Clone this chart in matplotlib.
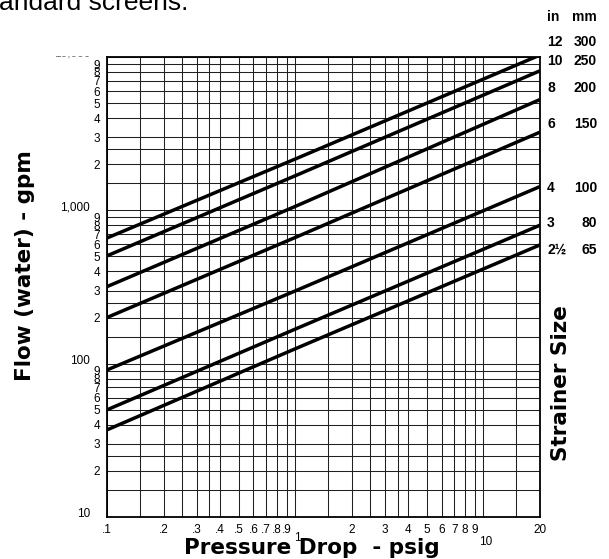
import matplotlib.pyplot as plt
from matplotlib.ticker import NullLocator
from matplotlib.transforms import Bbox, TransformedBbox, blended_transform_factory, offset_copy

# strainer sizes (label table on the right)
sizes_in = ['12', '10', '8', '6', '4', '3', '2½']
sizes_mm = ['300', '250', '200', '150', '100', '80', '65']

# flow (gpm) at three pressure drops, one value per size
pressure_pts = [0.1, 1, 20]
flow_at_01 = [660, 505, 318, 200, 91, 50, 37]
flow_at_1 = [2160, 1680, 1060, 665, 298, 168, 125]
flow_at_20 = [10300, 8130, 5280, 3235, 1429, 800, 595]

# grid lines
pressure_grid = [0.1, 0.15, 0.2, 0.25, 0.3, 0.35, 0.4, 0.5, 0.6, 0.7, 0.8, 0.9,
                 1, 1.5, 2, 2.5, 3, 3.5, 4, 5, 6, 7, 8, 9, 10, 15, 20]
pressure_labels = ['.1', '', '.2', '', '.3', '', '.4', '.5', '.6', '.7', '.8', '.9',
                   '', '', '2', '', '3', '', '4', '5', '6', '7', '8', '9', '', '', '20']
pressure_low_ticks = [1, 10]
pressure_low_labels = ['1', '10']

flow_grid = [10, 15, 20, 25, 30, 40, 50, 60, 70, 80, 90,
             100, 150, 200, 250, 300, 400, 500, 600, 700, 800, 900,
             1000, 1500, 2000, 2500, 3000, 4000, 5000, 6000, 7000, 8000, 9000, 10000]
flow_labels = ['', '', '2', '', '3', '4', '5', '6', '7', '8', '9',
               '', '', '2', '', '3', '4', '5', '6', '7', '8', '9',
               '', '', '2', '', '3', '4', '5', '6', '7', '8', '9', '']
flow_big_ticks = [10, 100, 1000]
flow_big_labels = ['10', '100', '1,000']

W, H = 609, 559
narrow = ['Liberation Sans Narrow', 'Liberation Sans', 'DejaVu Sans']
plt.rcParams['font.family'] = ['Liberation Sans', 'DejaVu Sans']

fig = plt.figure(figsize=(W / 100, H / 100), dpi=100)
ax = fig.add_axes([107 / W, 1 - 517 / H, 433 / W, 460 / H])
ax.set_xscale('log')
ax.set_yscale('log')
ax.set_xlim(0.1, 20)
ax.set_ylim(10, 10000)

ax.xaxis.set_minor_locator(NullLocator())
ax.yaxis.set_minor_locator(NullLocator())
ax.set_xticks(pressure_grid, pressure_labels, family=narrow, fontsize=8.5)
ax.set_yticks(flow_grid, flow_labels, family=narrow, fontsize=8.5)
ax.tick_params(axis='x', length=0, pad=5)
ax.tick_params(axis='y', length=0, pad=5)
ax.grid(True, color='#202020', lw=0.75)
for s in ax.spines.values():
    s.set_linewidth(1.3)
    s.set_zorder(5)

# odd tick labels placed a bit away from the others
tr_x = blended_transform_factory(ax.transData, ax.transAxes)
for v, s, dy in zip(pressure_low_ticks, pressure_low_labels, [-0.046, -0.055]):
    ax.text(v, dy, s, transform=offset_copy(tr_x, fig, x=2, units='dots'),
            ha='center', va='center', fontsize=8.5, family=narrow, clip_on=False)
tr_y = blended_transform_factory(ax.transAxes, ax.transData)
for v, s in zip(flow_big_ticks, flow_big_labels):
    ax.text(-17 / 433, v, s, transform=offset_copy(tr_y, fig, y=3, units='dots'),
            ha='right', va='center', fontsize=8.5, family=narrow, clip_on=False)
top_lbl = ax.text(-17 / 433, 10000, '10,000', transform=offset_copy(tr_y, fig, y=-2, units='dots'),
                  ha='right', va='bottom', fontsize=8.5, family=narrow, color='0.45')
top_lbl.set_clip_box(TransformedBbox(Bbox.from_extents(0, 0, 1, 1 - 56 / H), fig.transFigure))
top_lbl.set_clip_on(True)

# strainer curves
for i in range(len(sizes_in)):
    ax.plot(pressure_pts, [flow_at_01[i], flow_at_1[i], flow_at_20[i]],
            color='black', lw=2.5, solid_capstyle='butt', zorder=4)

# size table on the right
label_y = [42, 61, 88, 124, 188, 223, 250]
fig.text(547 / W, 1 - 17 / H, 'in', ha='left', va='center', fontsize=10,
         fontweight='bold', family=narrow)
fig.text(597 / W, 1 - 17 / H, 'mm', ha='right', va='center', fontsize=10,
         fontweight='bold', family=narrow)
for s_in, s_mm, y in zip(sizes_in, sizes_mm, label_y):
    fig.text(547 / W, 1 - y / H, s_in, ha='left', va='center', fontsize=10,
             fontweight='bold', family=narrow)
    fig.text(597 / W, 1 - y / H, s_mm, ha='right', va='center', fontsize=10,
             fontweight='bold', family=narrow)

big = ['DejaVu Sans']
fig.text(561 / W, 1 - 383 / H, 'Strainer Size', rotation=90, ha='center', va='center',
         fontsize=15.5, fontweight='bold', family=big)
fig.text(25 / W, 1 - 266 / H, 'Flow (water) - gpm', rotation=90, ha='center', va='center',
         fontsize=15.5, fontweight='bold', family=big)
fig.text(312 / W, 1 - 548 / H, 'Pressure Drop  - psig', ha='center', va='center',
         fontsize=15.5, fontweight='bold', family=big)
fig.text(-1 / W, 1 - 10 / H, 'andard screens.', ha='left', va='baseline', fontsize=19)

fig.savefig('out.png', dpi=100)
